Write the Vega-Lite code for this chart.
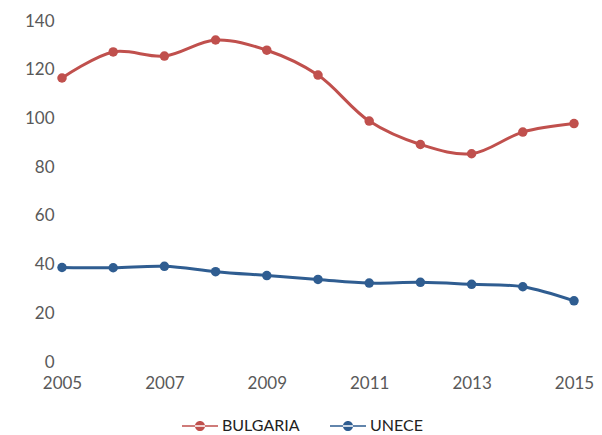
{
  "$schema": "https://vega.github.io/schema/vega-lite/v6.json",
  "width": 512,
  "height": 341,
  "autosize": {"type": "none"},
  "padding": {"left": 62, "top": 21, "right": 28, "bottom": 73},
  "background": "white",
  "config": {
    "view": {"stroke": null},
    "font": "Lato",
    "axis": {"grid": false, "domain": false, "ticks": false, "labelFont": "Lato", "labelFontSize": 17, "labelColor": "#595959", "title": null, "labelFlush": false}
  },
  "data": {
    "values": [
      {"year": 2005, "series": "BULGARIA", "value": 116.6},
      {"year": 2006, "series": "BULGARIA", "value": 127.3},
      {"year": 2007, "series": "BULGARIA", "value": 125.6},
      {"year": 2008, "series": "BULGARIA", "value": 132.2},
      {"year": 2009, "series": "BULGARIA", "value": 128.0},
      {"year": 2010, "series": "BULGARIA", "value": 117.8},
      {"year": 2011, "series": "BULGARIA", "value": 98.9},
      {"year": 2012, "series": "BULGARIA", "value": 89.3},
      {"year": 2013, "series": "BULGARIA", "value": 85.5},
      {"year": 2014, "series": "BULGARIA", "value": 94.4},
      {"year": 2015, "series": "BULGARIA", "value": 97.9},
      {"year": 2005, "series": "UNECE", "value": 38.8},
      {"year": 2006, "series": "UNECE", "value": 38.7},
      {"year": 2007, "series": "UNECE", "value": 39.3},
      {"year": 2008, "series": "UNECE", "value": 37.1},
      {"year": 2009, "series": "UNECE", "value": 35.5},
      {"year": 2010, "series": "UNECE", "value": 33.9},
      {"year": 2011, "series": "UNECE", "value": 32.4},
      {"year": 2012, "series": "UNECE", "value": 32.7},
      {"year": 2013, "series": "UNECE", "value": 31.9},
      {"year": 2014, "series": "UNECE", "value": 30.9},
      {"year": 2015, "series": "UNECE", "value": 25.1}
    ]
  },
  "encoding": {
    "x": {"field": "year", "type": "quantitative", "scale": {"domain": [2005, 2015], "nice": false, "zero": false},
      "axis": {"values": [2005, 2007, 2009, 2011, 2013, 2015], "format": "d", "labelPadding": 13}},
    "y": {"field": "value", "type": "quantitative", "scale": {"domain": [0, 140], "nice": false},
      "axis": {"values": [0, 20, 40, 60, 80, 100, 120, 140], "labelPadding": 8}},
    "color": {"field": "series", "type": "nominal",
      "scale": {"domain": ["BULGARIA", "UNECE"], "range": ["#C0504D", "#2F5D91"]},
      "legend": {"orient": "none", "legendX": 120, "legendY": 387, "direction": "horizontal", "title": null,
        "symbolType": "M-1,-0.045H1V0.045H-1Z M-0.28,0A0.28,0.28 0 1,0 0.28,0A0.28,0.28 0 1,0 -0.28,0Z",
        "symbolSize": 1296, "symbolStrokeWidth": 0, "labelFont": "Lato", "labelFontSize": 16, "labelColor": "#222222",
        "columnPadding": 30, "labelOffset": 4,
        "encode": {"symbols": {"update": {"fill": {"scale": "color", "field": "value"}, "opacity": {"value": 1}}}}}
    }
  },
  "layer": [
    {"mark": {"type": "line", "interpolate": "catmull-rom", "strokeWidth": 3}},
    {"mark": {"type": "point", "filled": true, "size": 90, "opacity": 1, "shape": "circle"}}
  ]
}
